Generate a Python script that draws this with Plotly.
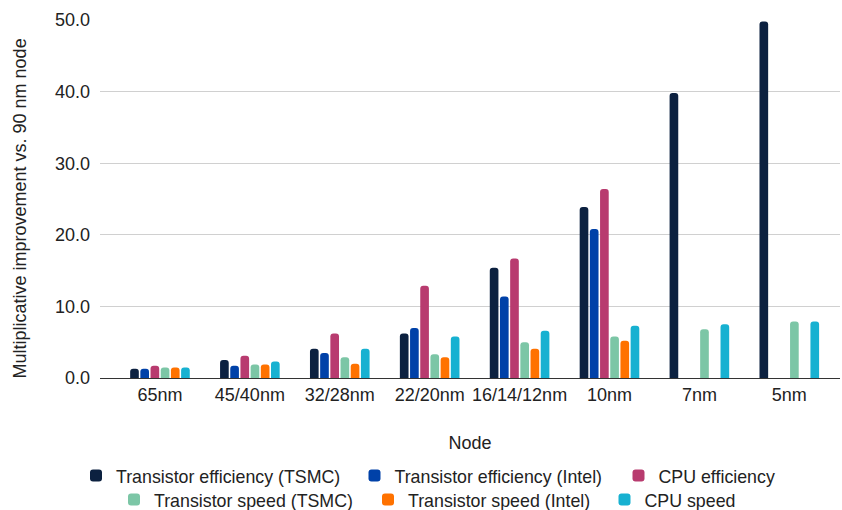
import plotly.graph_objects as go

nodes = ["65nm", "45/40nm", "32/28nm", "22/20nm", "16/14/12nm", "10nm", "7nm", "5nm"]
trans_eff_tsmc = [1.3, 2.5, 4.1, 6.2, 15.4, 23.9, 39.8, 49.8]
trans_eff_intel = [1.3, 1.7, 3.5, 7.0, 11.4, 20.8, None, None]
cpu_eff = [1.7, 3.1, 6.2, 12.9, 16.7, 26.4, None, None]
trans_speed_tsmc = [1.45, 1.9, 2.9, 3.3, 5.0, 5.8, 6.8, 7.9]
trans_speed_intel = [1.45, 1.9, 2.0, 2.9, 4.1, 5.2, None, None]
cpu_speed = [1.45, 2.3, 4.1, 5.8, 6.6, 7.3, 7.5, 7.9]

series_names = ["Transistor efficiency (TSMC)", "Transistor efficiency (Intel)", "CPU efficiency",
                "Transistor speed (TSMC)", "Transistor speed (Intel)", "CPU speed"]
series_values = [trans_eff_tsmc, trans_eff_intel, cpu_eff, trans_speed_tsmc, trans_speed_intel, cpu_speed]
series_colors = ["#0c2140", "#0041a8", "#b83b6f", "#7cc6a6", "#ff7200", "#17b1d1"]

# legend swatch centres (px) and row centres (px) for each entry
legend_x = [96, 374.5, 638.5, 134, 388, 624.5]
legend_y = [476, 476, 476, 500, 500, 500]

FONT = "Liberation Sans, Arial, sans-serif"
FS = 18
LFS = 17.8
W, H = 842, 510

fig = go.Figure()
legends = {}
for i, (name, vals, color) in enumerate(zip(series_names, series_values, series_colors)):
    key = "legend" if i == 0 else f"legend{i + 1}"
    fig.add_trace(go.Bar(
        name=name, x=nodes, y=vals, marker=dict(color=color, line=dict(width=0)),
        legend=key, showlegend=True,
    ))
    legends[key] = dict(
        orientation="h", x=(legend_x[i] - 20) / W, xanchor="left", xref="container",
        y=1 - legend_y[i] / H, yanchor="middle", yref="container",
        font=dict(size=LFS, color="#222222"), itemwidth=30, borderwidth=0,
        bgcolor="rgba(0,0,0,0)", visible=True,
    )

fig.update_layout(
    width=W, height=H, showlegend=True,
    margin=dict(l=100, r=2, t=20, b=132),
    paper_bgcolor="white", plot_bgcolor="white",
    font=dict(family=FONT, size=FS, color="#222222"),
    barmode="group", bargap=0.32, bargroupgap=0.15,
    barcornerradius=3,
    xaxis=dict(
        title=dict(text="Node", font=dict(size=FS), standoff=32),
        range=[-0.667, 7.564], showgrid=False, ticks="", showline=False,
        tickfont=dict(size=FS), ticklabelstandoff=4, automargin=False,
    ),
    yaxis=dict(
        range=[0, 50], dtick=10, tickformat=".1f",
        showgrid=True, gridcolor="#d0d0d0", gridwidth=1,
        zeroline=True, zerolinecolor="#333333", zerolinewidth=1.2,
        ticks="", ticklabelstandoff=9, tickfont=dict(size=FS), automargin=False,
    ),
    annotations=[dict(
        text="Multiplicative improvement vs. 90 nm node", textangle=-90,
        xref="paper", yref="paper", x=(19 - 100) / 740, y=(378 - 208.5) / 358,
        xanchor="center", yanchor="middle", showarrow=False,
        font=dict(size=FS, color="#222222"),
    )],
)
fig.update_layout(**legends)

fig.write_html("out.html", config={"displayModeBar": False},
               post_script="document.body.style.margin='0';document.body.style.overflow='hidden';")
